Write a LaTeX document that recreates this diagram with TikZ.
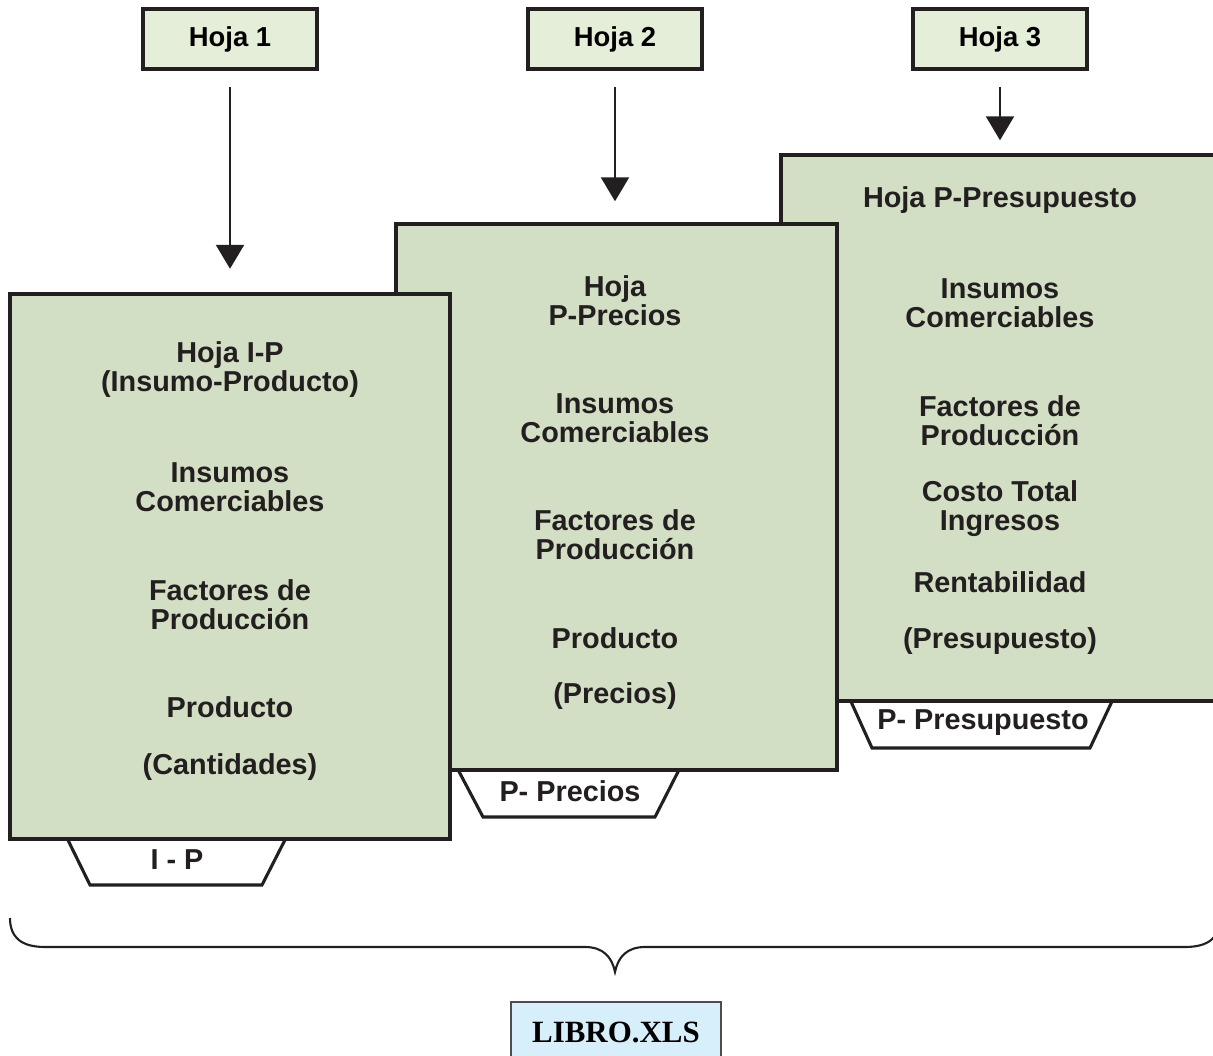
\documentclass[tikz,border=0pt]{standalone}
\usepackage{fontspec}
\setmainfont{Liberation Sans}
\newfontfamily\bookfont{Liberation Serif}
\usetikzlibrary{arrows.meta}
\definecolor{sheetgreen}{HTML}{D3DFC4}
\definecolor{headgreen}{HTML}{E4EED8}
\definecolor{bookblue}{HTML}{D6EFFA}
\definecolor{inkdark}{HTML}{231F20}
\begin{document}
\begin{tikzpicture}[
  x=0.025cm, y=-0.025cm,
  sheet_box/.style={rectangle, draw=inkdark, line width=2.8pt, fill=sheetgreen, minimum width=11cm, minimum height=13.625cm, inner sep=0pt},
  sheet_head/.style={rectangle, draw=inkdark, line width=2.4pt, fill=headgreen, minimum width=4.35cm, minimum height=1.5cm, inner sep=0pt, font=\fontsize{19.5}{22}\bfseries},
  sheet_text/.style={align=center, inner sep=0pt, text=inkdark, font=\fontsize{20.5}{20.6}\selectfont\bfseries},
  tab_label/.style={inner sep=0pt, text=inkdark, font=\fontsize{20.5}{22}\selectfont\bfseries},
  tab_shape/.style={draw=inkdark, line width=2.2pt, fill=white, line join=miter},
  down_arrow/.style={draw=inkdark, line width=1.2pt, -{Triangle[width=20pt,length=17pt]}},
  book_box/.style={rectangle, draw=inkdark!80, line width=1pt, fill=bookblue, minimum width=5.25cm, minimum height=1.5cm, inner sep=0pt, font=\bookfont\fontsize{22}{24}\selectfont\bfseries},
]
\clip (0,0) rectangle (1213,1056);

% sheet headers
\draw (230,39) node (h1) [sheet_head] {Hoja 1};
\draw (615,39) node (h2) [sheet_head] {Hoja 2};
\draw (1000,39) node (h3) [sheet_head] {Hoja 3};

% tabs (under the sheets)
\draw [tab_shape] (65,834) -- (90,885) -- (262,885) -- (288,834);
\draw [tab_shape] (455,764) -- (483,817) -- (655,817) -- (682,764);
\draw [tab_shape] (848,695) -- (872,748) -- (1090,748) -- (1115,695);

% sheets, back to front
\draw (1001,428) node (p3) [sheet_box] {};
\draw (616.5,497) node (p2) [sheet_box] {};
\draw (230,566.5) node (p1) [sheet_box] {};

% arrows
\draw [down_arrow, shorten <=0.4cm, shorten >=0.58cm] (h1.south) -- (h1.south |- p1.north);
\draw [down_arrow, shorten <=0.4cm, shorten >=0.53cm] (h2.south) -- (h2.south |- p2.north);
\draw [down_arrow, shorten <=0.4cm, shorten >=0.33cm] (h3.south) -- (h3.south |- p3.north);

% sheet 1
\draw (230,369.5) node (t11) [sheet_text] {Hoja I-P\\(Insumo-Producto)};
\draw (230,487) node (t12) [sheet_text] {Insumos\\Comerciables};
\draw (230,604.5) node (t13) [sheet_text] {Factores de\\Producción};
\draw (230,707) node (t14) [sheet_text] {Producto};
\draw (230,767) node (t15) [sheet_text] {(Cantidades)};

% sheet 2
\draw (615,301) node (t21) [sheet_text] {Hoja\\P-Precios};
\draw (615,418) node (t22) [sheet_text] {Insumos\\Comerciables};
\draw (615,534.5) node (t23) [sheet_text] {Factores de\\Producción};
\draw (615,638) node (t24) [sheet_text] {Producto};
\draw (615,696) node (t25) [sheet_text] {(Precios)};

% sheet 3
\draw (1000,200) node (t31) [sheet_text] {Hoja P-Presupuesto};
\draw (1000,303) node (t32) [sheet_text] {Insumos\\Comerciables};
\draw (1000,420.5) node (t33) [sheet_text] {Factores de\\Producción};
\draw (1000,508.5) node (t34) [sheet_text] {Costo Total\\Ingresos};
\draw (1000,582) node (t35) [sheet_text] {Rentabilidad};
\draw (1000,641) node (t36) [sheet_text] {(Presupuesto)};

% tab labels
\draw (177,860) node (l1) [tab_label] {I - P};
\draw (570,791) node (l2) [tab_label] {P- Precios};
\draw (983,723) node (l3) [tab_label] {P- Presupuesto};

% brace and book
\draw [inkdark, line width=1.5pt] (10,918) .. controls (10,938) and (22,947) .. (45,947) -- (585,947)
  .. controls (603,947) and (612,957) .. (615,972)
  .. controls (618,957) and (627,947) .. (645,947) -- (1185,947)
  .. controls (1208,947) and (1220,938) .. (1220,918);
\draw (616,1032) node (book) [book_box] {LIBRO.XLS};
\end{tikzpicture}
\end{document}
